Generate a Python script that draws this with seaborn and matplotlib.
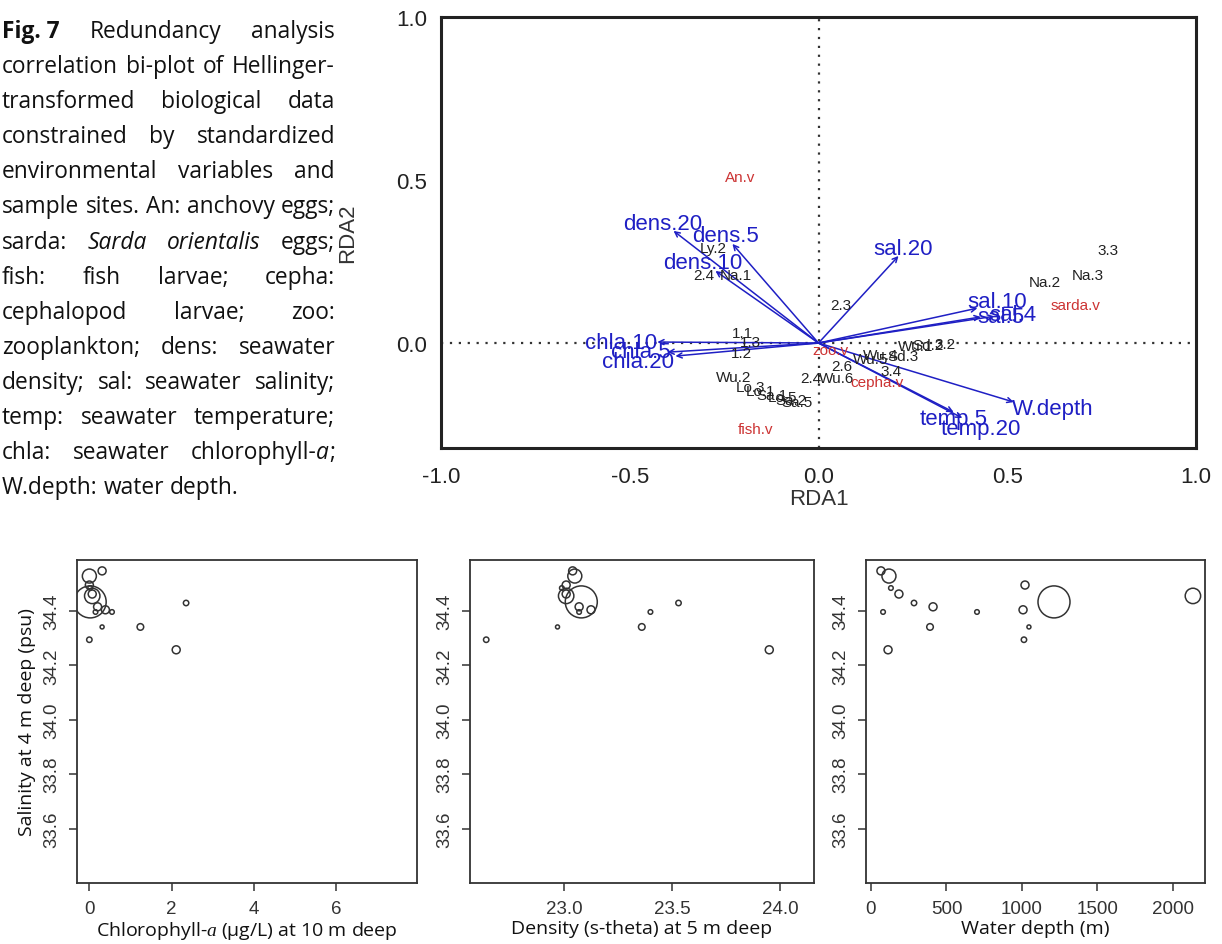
import numpy as np
import pandas as pd
import matplotlib
matplotlib.use("Agg")
import matplotlib.pyplot as plt
from matplotlib.transforms import IdentityTransform
import seaborn as sns

# ---------------- RDA biplot data ----------------
env_vars = ["dens.20", "dens.5", "dens.10", "chla.10", "chla.5", "chla.20",
            "sal.20", "sal.10", "sal.5", "sal.4", "W.depth", "temp.5", "temp.20"]
env_rda1 = [-0.384, -0.228, -0.273, -0.427, -0.400, -0.379,
            0.212, 0.421, 0.430, 0.465, 0.517, 0.358, 0.381]
env_rda2 = [0.344, 0.304, 0.221, 0.003, -0.028, -0.040,
            0.267, 0.107, 0.080, 0.082, -0.181, -0.212, -0.230]
env_lab_rda1 = [-0.413, -0.246, -0.307, -0.524, -0.472, -0.479,
                0.225, 0.474, 0.482, 0.514, 0.620, 0.358, 0.429]
env_lab_rda2 = [0.368, 0.331, 0.248, 0.003, -0.025, -0.058,
                0.291, 0.126, 0.080, 0.086, -0.202, -0.233, -0.261]

species = ["An.v", "sarda.v", "fish.v", "cepha.v", "zoo.v"]
species_rda1 = [-0.207, 0.681, -0.167, 0.156, 0.032]
species_rda2 = [0.509, 0.117, -0.264, -0.120, -0.021]

sites = ["3.3", "Na.2", "Na.3", "2.3", "Ly.2", "2.4", "Na.1", "1.1", "1.3", "1.2",
         "Wu.2", "Lo.3", "Lo.1", "Sa.1", "Lo.5", "Sa.2", "Sa.5", "2.4", "Wu.6",
         "2.6", "Wu.5", "Wu.4", "Sd.3", "3.4", "Wu.1", "Sd.2", "3.2"]
site_rda1 = [0.766, 0.599, 0.713, 0.058, -0.278, -0.305, -0.220, -0.201, -0.180, -0.204,
             -0.225, -0.180, -0.154, -0.122, -0.095, -0.072, -0.056, -0.021, 0.048,
             0.061, 0.138, 0.164, 0.225, 0.193, 0.257, 0.291, 0.336]
site_rda2 = [0.285, 0.187, 0.209, 0.117, 0.291, 0.209, 0.209, 0.031, 0.003, -0.031,
             -0.104, -0.135, -0.147, -0.160, -0.166, -0.175, -0.181, -0.107, -0.107,
             -0.071, -0.049, -0.037, -0.040, -0.086, -0.009, -0.006, -0.003]

rda_xticks = [-1.0, -0.5, 0.0, 0.5, 1.0]
rda_yticks = [0.0, 0.5, 1.0]

# ---------------- bubble plot data ----------------
salinity_4m = [34.547, 34.528, 34.484, 34.462, 34.396, 34.429, 34.415, 34.341,
               34.257, 34.396, 34.495, 34.404, 34.341, 34.294, 34.433, 34.455]
chla_10m = [0.31, 0.00, 0.02, 0.07, 0.15, 2.35, 0.20, 1.24,
            2.11, 0.55, 0.00, 0.39, 0.31, 0.00, 0.02, 0.07]
density_5m = [23.04, 23.05, 22.99, 23.01, 23.07, 23.53, 23.07, 23.36,
              23.95, 23.40, 23.01, 23.125, 22.97, 22.64, 23.08, 23.01]
water_depth = [66, 119, 132, 185, 80, 285, 411, 391,
               113, 702, 1020, 1007, 1046, 1013, 1212, 2132]
abundance = [4.0, 7.0, 2.3, 4.0, 2.3, 2.7, 4.0, 3.3,
             4.0, 2.3, 4.0, 4.0, 2.0, 2.7, 16.0, 7.7]

chla_ticks = [0, 2, 4, 6]
dens_ticks = [23.0, 23.5, 24.0]
depth_ticks = [0, 500, 1000, 1500, 2000]
sal_ticks = [33.6, 33.8, 34.0, 34.2, 34.4]

caption = [
    [[("Fig. 7", "bold", "normal")], [("Redundancy", "normal", "normal")], [("analysis", "normal", "normal")]],
    "correlation bi-plot of Hellinger-",
    "transformed biological data",
    "constrained by standardized",
    "environmental variables and",
    "sample sites. An: anchovy eggs;",
    [[("sarda:", "normal", "normal")], [("Sarda", "normal", "italic")],
     [("orientalis", "normal", "italic")], [("eggs;", "normal", "normal")]],
    "fish: fish larvae; cepha:",
    "cephalopod larvae; zoo:",
    "zooplankton; dens: seawater",
    "density; sal: seawater salinity;",
    "temp: seawater temperature;",
    [[("chla:", "normal", "normal")], [("seawater", "normal", "normal")],
     [("chlorophyll-", "normal", "normal"), ("a", "normal", "italic"), (";", "normal", "normal")]],
    "W.depth: water depth.",
]

# ---------------- figure ----------------
sns.set_theme(style="ticks")
plt.rcParams["font.family"] = ["Liberation Sans", "DejaVu Sans"]
plt.rcParams["mathtext.fontset"] = "custom"
plt.rcParams["mathtext.rm"] = "Open Sans"
plt.rcParams["mathtext.it"] = "Liberation Serif:italic"

W, H = 1222, 945
fig = plt.figure(figsize=(W / 100, H / 100), dpi=100)
CAP_FONT = ["Open Sans", "DejaVu Sans"]
BLUE = "#1f1fc4"
RED = "#cc3333"


def px_axes(l, t, r, b):
    return fig.add_axes([l / W, 1 - b / H, (r - l) / W, (b - t) / H])


# ---- top biplot ----
ax = px_axes(441, 18, 1196, 449)
ax.set_xlim(-1.0, 1.0)
ax.set_ylim(-0.322, 1.0)
ax.axvline(0, color="#333333", lw=1.6, ls=(0, (1, 3)), zorder=1)
ax.axhline(0, color="#333333", lw=1.6, ls=(0, (1, 3)), zorder=1)

for x, y in zip(env_rda1, env_rda2):
    ax.annotate("", xy=(x, y), xytext=(0, 0),
                arrowprops=dict(arrowstyle="->", color=BLUE, lw=1.1,
                                shrinkA=0, shrinkB=0, mutation_scale=9),
                zorder=2)
for lab, x, y in zip(sites, site_rda1, site_rda2):
    ax.text(x, y, lab, ha="center", va="center", fontsize=11, color="#222222", zorder=3)
for lab, x, y in zip(species, species_rda1, species_rda2):
    ax.text(x, y, lab, ha="center", va="center", fontsize=11, color=RED, zorder=3)
for lab, x, y in zip(env_vars, env_lab_rda1, env_lab_rda2):
    ax.text(x, y, lab, ha="center", va="center", fontsize=16, color=BLUE, zorder=4)

ax.set_xticks(rda_xticks)
ax.set_xticklabels([f"{v:.1f}" for v in rda_xticks])
ax.set_yticks(rda_yticks)
ax.set_yticklabels([f"{v:.1f}" for v in rda_yticks])
ax.tick_params(axis="x", length=0, pad=13, labelsize=16, colors="#222222")
ax.tick_params(axis="y", length=0, pad=10, labelsize=16, colors="#222222")
ax.set_xlabel("RDA1", fontsize=16, color="#333333", labelpad=1)
ax.set_ylabel("RDA2", fontsize=16, color="#333333", labelpad=27)
for s in ax.spines.values():
    s.set_linewidth(2.2)
    s.set_color("#222222")

# ---- bottom bubble plots ----
df = pd.DataFrame({"sal": salinity_4m, "chla": chla_10m, "dens": density_5m,
                   "depth": water_depth, "abund": abundance})
df["area"] = df["abund"] ** 2
amax = df["area"].max()
smax = (1.44 * 16.0) ** 2

panels = [
    ((77, 561, 417, 884), "chla", (-0.30, 7.96), chla_ticks, [str(v) for v in chla_ticks],
     r"Chlorophyll-$\it{a}$ (μg/L) at 10 m deep"),
    ((470, 561, 814, 884), "dens", (22.565, 24.157), dens_ticks, [f"{v:.1f}" for v in dens_ticks],
     "Density (s-theta) at 5 m deep"),
    ((866, 561, 1205, 884), "depth", (-33, 2212), depth_ticks, [str(v) for v in depth_ticks],
     "Water depth (m)"),
]
for i, (box, xcol, xlim, xt, xtl, xlabel) in enumerate(panels):
    bx = px_axes(*box)
    sns.scatterplot(data=df, x=xcol, y="sal", size="area", sizes=(0, smax),
                    size_norm=(0, amax), legend=False, ax=bx,
                    facecolor="none", edgecolor="#333333", linewidth=1.1, marker="o")
    bx.set_xlim(*xlim)
    bx.set_ylim(33.40, 34.587)
    bx.set_xticks(xt)
    bx.set_xticklabels(xtl)
    bx.set_yticks(sal_ticks)
    bx.set_yticklabels([f"{v:.1f}" for v in sal_ticks], rotation=90, va="center")
    bx.tick_params(axis="both", length=6, width=1.1, color="#333333", labelsize=13.5,
                   labelcolor="#333333")
    bx.tick_params(axis="x", pad=6)
    bx.tick_params(axis="y", pad=6)
    bx.set_xlabel(xlabel, fontsize=14, family=CAP_FONT, color="#111111", labelpad=2)
    if i == 0:
        bx.set_ylabel("Salinity at 4 m deep (psu)", fontsize=14, family=CAP_FONT,
                      color="#111111", labelpad=5)
    else:
        bx.set_ylabel("")
    for s in bx.spines.values():
        s.set_linewidth(1.3)
        s.set_color("#333333")

# ---- justified caption ----
renderer = fig.canvas.get_renderer()
X0, X1 = 2, 335
Y0, DY = 32, 35.1

# font size chosen so that the widest natural line fills the column
probe = fig.text(0, 0, "sample sites. An: anchovy eggs;", fontsize=10, family=CAP_FONT,
                 transform=IdentityTransform())
pw = probe.get_window_extent(renderer).width
probe.remove()
CAP_SIZE = 10 * (X1 - X0 - 1) / pw


def make_word(word, x, y):
    objs = []
    cx = x
    for txt, wt, st in word:
        t = fig.text(cx, y, txt, transform=IdentityTransform(), fontsize=CAP_SIZE,
                     family=CAP_FONT, weight=wt, style=st, ha="left", va="center",
                     color="#111111")
        w = t.get_window_extent(renderer).width
        objs.append((t, w))
        cx += w
    return objs, cx - x


sp1 = fig.text(0, 0, "a b", fontsize=CAP_SIZE, family=CAP_FONT, transform=IdentityTransform())
sp2 = fig.text(0, 0, "ab", fontsize=CAP_SIZE, family=CAP_FONT, transform=IdentityTransform())
SPACE = sp1.get_window_extent(renderer).width - sp2.get_window_extent(renderer).width
sp1.remove()
sp2.remove()

for li, line in enumerate(caption):
    y = H - (Y0 + DY * li)
    if isinstance(line, str):
        words = [[(w, "normal", "normal")] for w in line.split(" ")]
    else:
        words = line
    placed = []
    total = 0
    for wd in words:
        objs, wwidth = make_word(wd, 0, y)
        placed.append((objs, wwidth))
        total += wwidth
    last = li == len(caption) - 1
    if last or len(words) == 1:
        gap = SPACE
    else:
        gap = max(SPACE * 0.8, (X1 - X0 - total) / (len(words) - 1))
    cx = X0
    for objs, wwidth in placed:
        ox = cx
        for t, w in objs:
            t.set_x(ox)
            ox += w
        cx += wwidth + gap

fig.savefig("out.png", dpi=100)
